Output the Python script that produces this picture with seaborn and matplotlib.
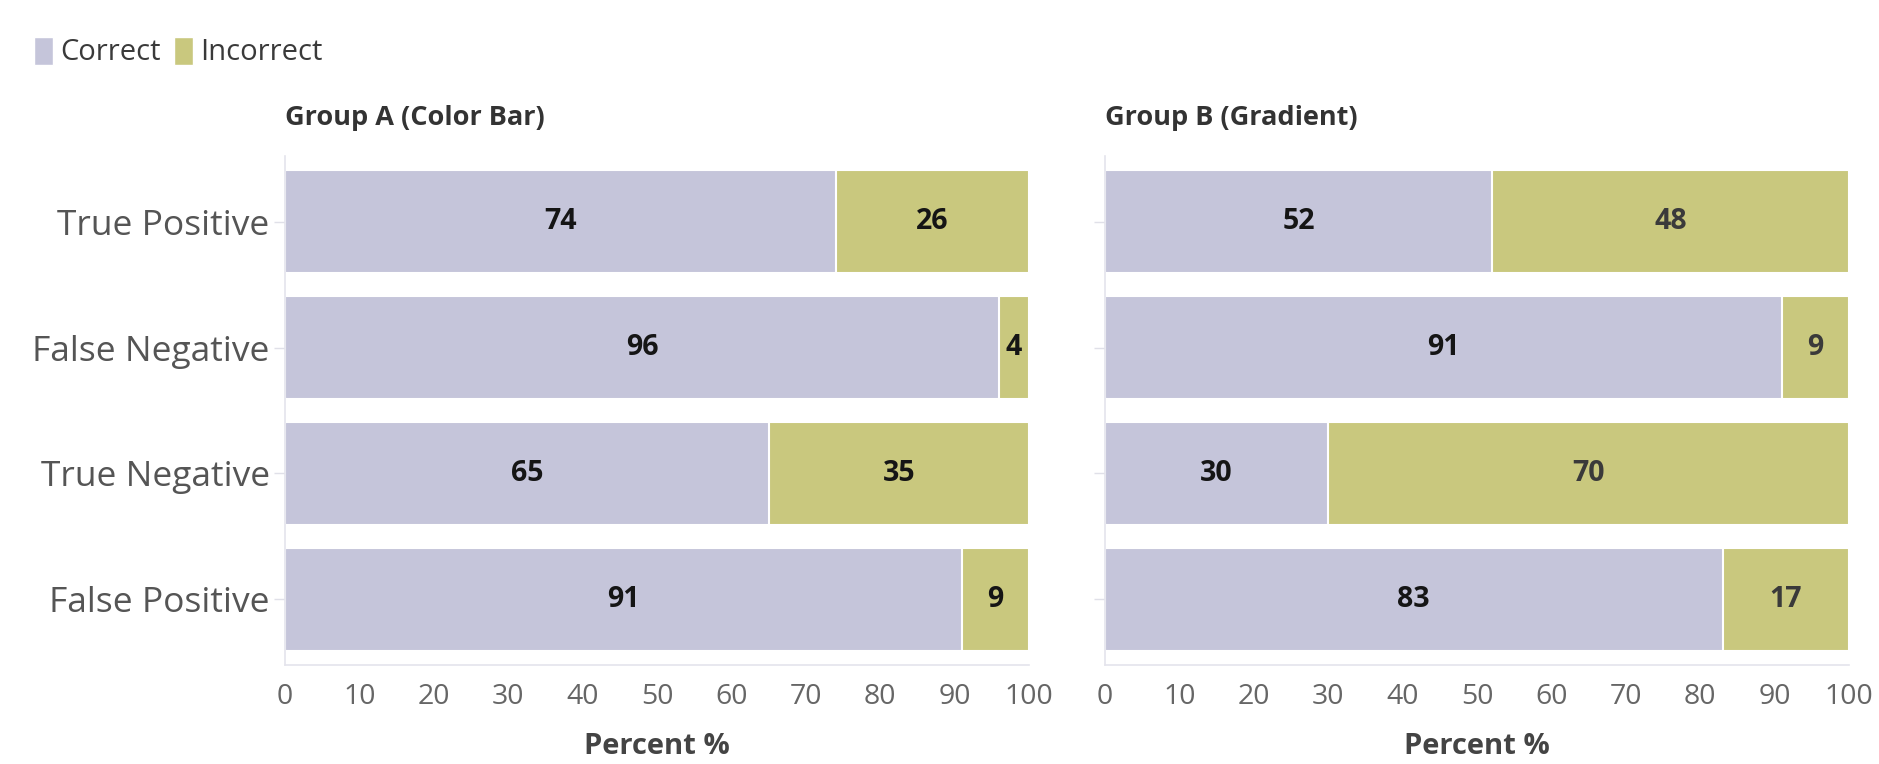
import matplotlib
matplotlib.use("Agg")
import matplotlib.pyplot as plt
import seaborn as sns
import pandas as pd
from matplotlib.patches import Patch

categories = ["True Positive", "False Negative", "True Negative", "False Positive"]
groups = ["Group A (Color Bar)", "Group B (Gradient)"]
correct_a = [74, 96, 65, 91]
incorrect_a = [26, 4, 35, 9]
correct_b = [52, 91, 30, 83]
incorrect_b = [48, 9, 70, 17]
xticks = [0, 10, 20, 30, 40, 50, 60, 70, 80, 90, 100]

C_CORRECT = "#c5c5da"
C_INCORRECT = "#c9c87e"

sns.set_theme(style="white")
plt.rcParams["font.family"] = ["Open Sans", "DejaVu Sans"]

fig = plt.figure(figsize=(18.79, 7.64), dpi=100)
axA = fig.add_axes([285/1879, 1 - 665/764, 744/1879, 509/764])
axB = fig.add_axes([1105/1879, 1 - 665/764, 744/1879, 509/764])

data = [(axA, correct_a, incorrect_a, groups[0]), (axB, correct_b, incorrect_b, groups[1])]
for ax, cor, inc, title in data:
    df = pd.DataFrame({"cat": categories, "correct": cor, "incorrect": inc})
    df["total"] = df["correct"] + df["incorrect"]
    sns.barplot(data=df, x="total", y="cat", color=C_INCORRECT, saturation=1,
                width=0.81, edgecolor="white", linewidth=1.5, ax=ax, orient="h")
    sns.barplot(data=df, x="correct", y="cat", color=C_CORRECT, saturation=1,
                width=0.81, edgecolor="white", linewidth=1.5, ax=ax, orient="h")
    for i, (c, n) in enumerate(zip(cor, inc)):
        ax.text(c / 2, i, str(c), ha="center", va="center", fontsize=20.5,
                fontweight="bold", color="#151515")
        ax.text(c + n / 2, i, str(n), ha="center", va="center", fontsize=20.5,
                fontweight="bold", color="#151515" if ax is axA else "#3a3a3a")
    ax.set_xlim(0, 100)
    ax.set_ylim(3.52, -0.52)
    ax.set_xticks(xticks)
    ax.set_xticklabels([str(t) for t in xticks])
    ax.set_xlabel("Percent %", fontsize=21, fontweight="bold", color="#444444", labelpad=15)
    ax.set_ylabel("")
    ax.set_title(title, loc="left", fontsize=19.5, fontweight="bold", color="#333333", pad=22)
    for s in ["top", "right"]:
        ax.spines[s].set_visible(False)
    ax.spines["left"].set_color("#e4e4ec")
    ax.spines["bottom"].set_color("#e4e4ec")
    ax.spines["left"].set_linewidth(1.2)
    ax.spines["bottom"].set_linewidth(1.2)
    ax.tick_params(axis="x", length=8, width=1, color="#e0e0e8", labelsize=20.5,
                   labelcolor="#666666", pad=5)
    ax.tick_params(axis="y", length=8, width=1, color="#e0e0e8", labelsize=25.5,
                   labelcolor="#555555", pad=3, left=True)

axB.set_yticklabels([])

handles = [Patch(facecolor=C_CORRECT, label="Correct"), Patch(facecolor=C_INCORRECT, label="Incorrect")]
fig.legend(handles=handles, loc="center left", bbox_to_anchor=(8/1879, 1 - 52/764), ncol=2,
           frameon=False, fontsize=21, handlelength=0.65, handleheight=1.1, handletextpad=0.25,
           columnspacing=0.45, labelcolor="#3a3a3a")

fig.savefig("out.png", dpi=100)
